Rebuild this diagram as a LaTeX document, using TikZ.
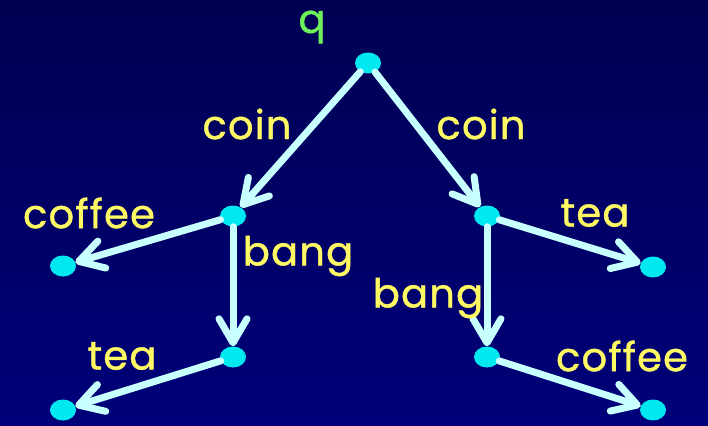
\documentclass[tikz,border=0pt]{standalone}
\usepackage{fontspec}
\setsansfont{Poppins}[LetterSpace=3,FakeBold=1]
\usetikzlibrary{arrows.meta,shapes.geometric}
\definecolor{bgtop}{RGB}{0,0,82}
\definecolor{bgbot}{RGB}{0,0,122}
\definecolor{statefill}{RGB}{0,232,240}
\definecolor{edgecol}{RGB}{200,255,255}
\definecolor{lblyellow}{RGB}{255,250,100}
\definecolor{rootgreen}{RGB}{110,240,90}
\tikzset{
  state/.style ={ellipse, fill=statefill, minimum width=26pt, minimum height=21pt, inner sep=0pt},
  tr/.style    ={draw=edgecol, line width=7pt, line cap=round,
                 -{Straight Barb[length=24pt,width=28pt,round]}},
  act/.style   ={text=lblyellow, font=\sffamily\fontsize{40}{42}\selectfont, inner sep=0pt},
  root/.style  ={act, text=rootgreen},
}
\begin{document}
\begin{tikzpicture}[x=1pt,y=-1pt]
\fill[top color=bgtop, bottom color=bgbot] (0,0) rectangle (708,425);
\useasboundingbox (0,0) rectangle (708,425);
% states
\node[state] (q)   at (368,63)  {};
\node[state] (l)   at (233,216) {};
\node[state] (r)   at (487,216) {};
\node[state] (lc)  at (63,266)  {};
\node[state] (lb)  at (233,357) {};
\node[state] (lbt) at (63,410)  {};
\node[state] (rt)  at (653,267) {};
\node[state] (rb)  at (487,357) {};
\node[state] (rbc) at (653,410) {};
% transitions
\draw[tr] (q) -- (l);   \draw[tr] (q) -- (r);
\draw[tr] (l) -- (lc);  \draw[tr] (l) -- (lb);  \draw[tr] (lb) -- (lbt);
\draw[tr] (r) -- (rt);  \draw[tr] (r) -- (rb);  \draw[tr] (rb) -- (rbc);
% labels
\node[root] (lq)   at (312,27)  {q};
\node[act]  (lcl)  at (247,124) {coin};
\node[act]  (lcr)  at (481,124) {coin};
\node[act]  (lcfl) at (89,213)  {coffee};
\node[act]  (lbgl) at (298,256) {bang};
\node[act]  (ltl)  at (122,356) {tea};
\node[act]  (ltr)  at (595,213) {tea};
\node[act]  (lbgr) at (428,298) {bang};
\node[act]  (lcfr) at (622,356) {coffee};
\end{tikzpicture}
\end{document}
